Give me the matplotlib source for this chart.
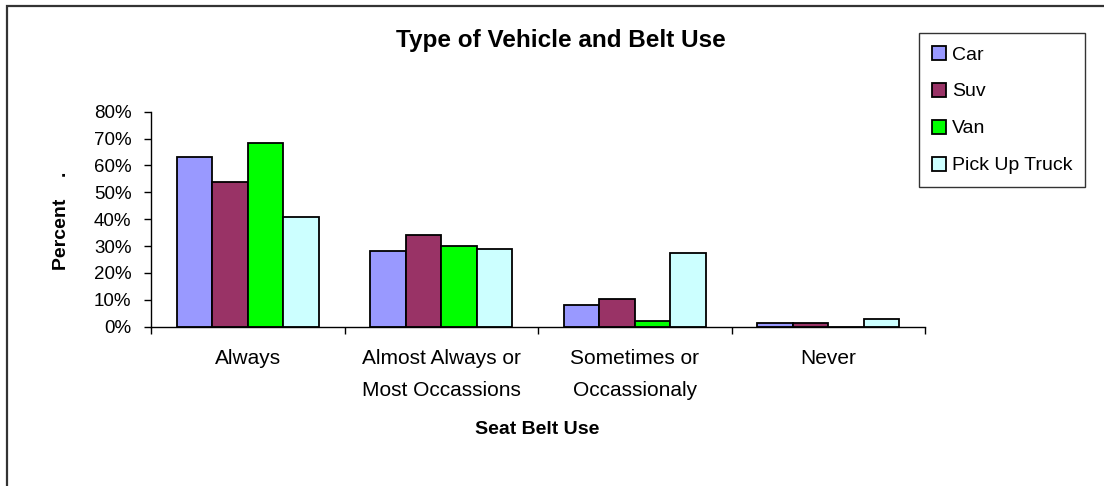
import matplotlib
matplotlib.use("Agg")
import matplotlib.pyplot as plt
from matplotlib.patches import Rectangle
from matplotlib.ticker import FixedLocator, PercentFormatter
import numpy as np

plt.rcParams['font.family'] = ['Liberation Sans', 'DejaVu Sans']

categories = ["Always", "Almost Always or\nMost Occassions", "Sometimes or\nOccassionaly", "Never"]
series_names = ["Car", "Suv", "Van", "Pick Up Truck"]
car = [0.63, 0.28, 0.08, 0.015]
suv = [0.54, 0.34, 0.103, 0.015]
van = [0.685, 0.30, 0.022, 0.0]
pickup = [0.41, 0.29, 0.275, 0.03]
yticks = [0.0, 0.1, 0.2, 0.3, 0.4, 0.5, 0.6, 0.7, 0.8]
colors = ["#9999FF", "#993366", "#00FF00", "#CCFFFF"]

W, H = 1104, 486
fig = plt.figure(figsize=(W / 100, H / 100), dpi=100)

# outer chart border (left and top edges)
fig.patches.append(Rectangle((7 / W, -0.1), 1.2, 1 - 6 / H + 0.1, transform=fig.transFigure,
                             fill=False, edgecolor="#333333", linewidth=1.6))

ax = fig.add_axes([151 / W, 159.3 / H, 774 / W, 215 / H])
x = np.arange(len(categories))
width = 0.1835
all_series = [car, suv, van, pickup]
for i, (vals, name, col) in enumerate(zip(all_series, series_names, colors)):
    ax.bar(x + (i - 1.5) * width, vals, width, color=col, edgecolor="black",
           linewidth=1.3, label=name)

ax.set_xlim(-0.5, len(categories) - 0.5)
ax.set_ylim(0, 0.8)
ax.set_yticks(yticks)
ax.yaxis.set_major_formatter(PercentFormatter(1.0, decimals=0))
ax.tick_params(axis="y", direction="out", length=5, width=1, labelsize=13.5, pad=9)

ax.xaxis.set_major_locator(FixedLocator(np.arange(-0.5, len(categories), 1.0)))
ax.xaxis.set_minor_locator(FixedLocator(x))
ax.set_xticklabels([], minor=False)
ax.set_xticklabels(categories, minor=True, fontsize=15, linespacing=1.9)
ax.tick_params(axis="x", which="major", direction="out", length=5, width=1)
ax.tick_params(axis="x", which="minor", length=0, pad=16)

for s in ["top", "right"]:
    ax.spines[s].set_visible(False)
for s in ["left", "bottom"]:
    ax.spines[s].set_linewidth(1)

fig.text(561 / W, 1 - 40 / H, "Type of Vehicle and Belt Use", ha="center", va="center",
         fontsize=17.5, fontweight="bold")
fig.text(537 / W, 1 - 429 / H, "Seat Belt Use", ha="center", va="center",
         fontsize=14, fontweight="bold")
fig.text(62 / W, 1 - 221 / H, "Percent    .", ha="center", va="center", rotation=90,
         fontsize=14, fontweight="bold")

leg = fig.legend(loc="upper left", bbox_to_anchor=(919 / W, 1 - 33 / H), frameon=True,
                 fancybox=False, edgecolor="black", fontsize=14, handlelength=0.75,
                 handleheight=0.75, handletextpad=0.3, labelspacing=0.98,
                 borderpad=0.65, borderaxespad=0)
leg.get_frame().set_linewidth(1)

fig.savefig("out.png", dpi=100)
